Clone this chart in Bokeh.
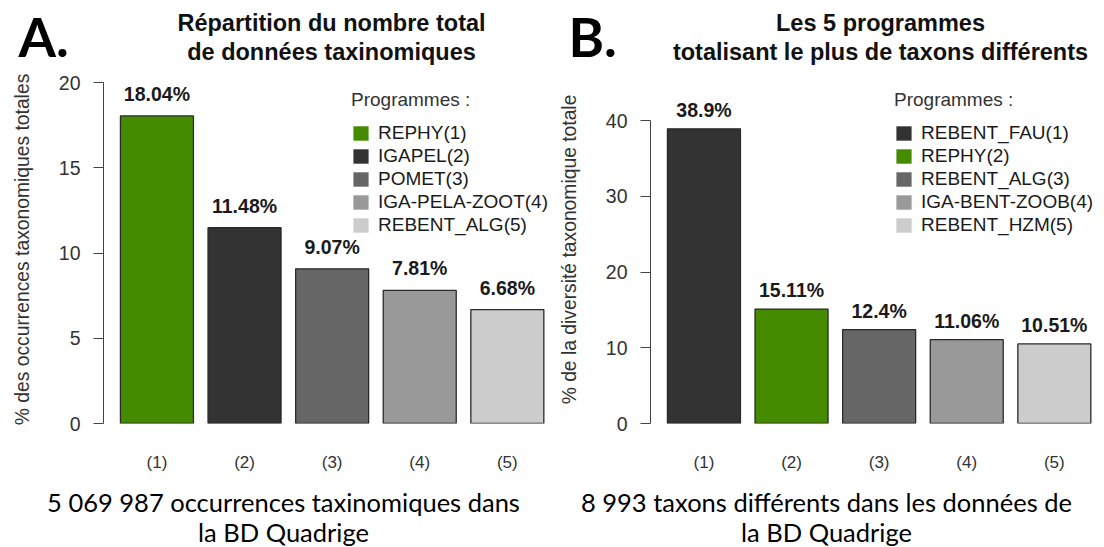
from bokeh.plotting import figure
from bokeh.models import ColumnDataSource, FixedTicker, Label, Range1d
from bokeh.layouts import row, column
from bokeh.embed import file_html
from bokeh.resources import INLINE
from bokeh.core.properties import value

# ---------------- data ----------------
x_labels = ["(1)", "(2)", "(3)", "(4)", "(5)"]

a_programmes = ["REPHY", "IGAPEL", "POMET", "IGA-PELA-ZOOT", "REBENT_ALG"]
a_values = [18.04, 11.48, 9.07, 7.81, 6.68]
a_colors = ["#458B00", "#333333", "#666666", "#999999", "#CCCCCC"]
a_yticks = [0, 5, 10, 15, 20]
a_title = ["Répartition du nombre total", "de données taxinomiques"]
a_ylabel = "% des occurrences taxonomiques totales"
a_caption = ["5 069 987 occurrences taxinomiques dans", "la BD Quadrige"]

b_programmes = ["REBENT_FAU", "REPHY", "REBENT_ALG", "IGA-BENT-ZOOB", "REBENT_HZM"]
b_values = [38.9, 15.11, 12.4, 11.06, 10.51]
b_colors = ["#333333", "#458B00", "#666666", "#999999", "#CCCCCC"]
b_yticks = [0, 10, 20, 30, 40]
b_title = ["Les 5 programmes", "totalisant le plus de taxons différents"]
b_ylabel = "% de la diversité taxonomique totale"
b_caption = ["8 993 taxons différents dans les données de", "la BD Quadrige"]

legend_title = "Programmes :"

# ---------------- layout constants ----------------
HEAD_H = 70          # header strip (letter + title)
CHART_H = 410        # chart strip
CAP_H = 67           # caption strip
FRAME_TOP = 5        # frame top inside chart strip
BORDER_BOTTOM = 57   # room for x labels
FRAME_H = CHART_H - FRAME_TOP - BORDER_BOTTOM
PX_PER_UNIT = 73.0
AXIS_X0 = 0.2 - 0.04 * 5.8   # R barplot axis start
SANS = "Liberation Sans"
WA, WB = 555, 549
BLA, BLB = 103, 95


def blank(width, height):
    p = figure(width=width, height=height, output_backend="svg",
               toolbar_location=None, x_range=Range1d(0, width),
               y_range=Range1d(0, height), min_border=0,
               x_axis_location=None, y_axis_location=None)
    p.outline_line_color = None
    p.grid.visible = False
    p.background_fill_color = "white"
    p.border_fill_color = "white"
    return p


def make_header(letter, title, width, title_x, letter_x):
    head = blank(width, HEAD_H)
    head.add_layout(Label(x=letter_x, y=HEAD_H - 36, x_units="screen", y_units="screen",
                          text=letter, text_align="left", text_baseline="middle",
                          text_font="Lato", text_font_style="bold",
                          text_font_size="54px", text_color="#000000"))
    for k, line in enumerate(title):
        head.add_layout(Label(x=title_x, y=HEAD_H - 22 - 29 * k,
                              x_units="screen", y_units="screen",
                              text=line, text_align="center", text_baseline="middle",
                              text_font=SANS, text_font_style="bold",
                              text_font_size="23.5px", text_color="#111111"))
    return head


def make_caption(caption, width, cap_x):
    cap = blank(width, CAP_H)
    for k, line in enumerate(caption):
        cap.add_layout(Label(x=cap_x, y=CAP_H - 21 - 30 * k,
                             x_units="screen", y_units="screen",
                             text=line, text_align="center", text_baseline="middle",
                             text_font="Lato", text_font_size="25.5px",
                             text_color="#000000"))
    return cap


def make_chart(programmes, values, colors, yticks, ylabel, width, border_left,
               top_tick_px, label_off, leg_x):
    frame_w = width - border_left
    xs = [0.7 + 1.2 * i for i in range(len(values))]
    ymax = yticks[-1]
    y_end = ymax * FRAME_H / (FRAME_H - top_tick_px)
    p = figure(width=width, height=CHART_H, output_backend="svg",
               toolbar_location=None,
               x_range=Range1d(AXIS_X0, AXIS_X0 + frame_w / PX_PER_UNIT),
               y_range=Range1d(0, y_end),
               min_border_left=border_left, min_border_right=0,
               min_border_top=FRAME_TOP, min_border_bottom=BORDER_BOTTOM)
    p.outline_line_color = None
    p.grid.visible = False
    p.background_fill_color = "white"
    p.border_fill_color = "white"

    src = ColumnDataSource(dict(
        x=xs, value=values, color=colors,
        legend=[f"{n}({i + 1})" for i, n in enumerate(programmes)],
        label=[f"{v:g}%" for v in values],
    ))
    p.vbar(x="x", top="value", bottom=0, width=1.0, source=src,
           fill_color="color", line_color=None, legend_field="legend")
    p.vbar(x="x", top="value", bottom=0, width=1.0, source=src,
           fill_alpha=0, line_color="#2a2a2a", line_width=1.3)
    p.text(x="x", y="value", text="label", source=src, y_offset=-label_off,
           text_align="center", text_baseline="middle",
           text_font=value(SANS), text_font_style="bold",
           text_font_size="19.5px", text_color="#1a1a1a")

    ya = p.yaxis[0]
    ya.ticker = FixedTicker(ticks=yticks)
    ya.bounds = (yticks[0], yticks[-1])
    ya.minor_tick_line_color = None
    ya.major_tick_in = 0
    ya.major_tick_out = 10
    ya.axis_line_color = "#444444"
    ya.major_tick_line_color = "#444444"
    ya.major_label_text_font = SANS
    ya.major_label_text_font_size = "19.5px"
    ya.major_label_text_color = "#333333"
    ya.major_label_standoff = 13
    ya.axis_label = ylabel
    ya.axis_label_text_font = SANS
    ya.axis_label_text_font_style = "normal"
    ya.axis_label_text_font_size = "19.3px"
    ya.axis_label_text_color = "#333333"
    ya.axis_label_standoff = 23

    xa = p.xaxis[0]
    xa.ticker = FixedTicker(ticks=xs)
    xa.major_label_overrides = {x: lab for x, lab in zip(xs, x_labels)}
    xa.axis_line_color = None
    xa.major_tick_line_color = None
    xa.minor_tick_line_color = None
    xa.major_label_standoff = 23
    xa.major_label_text_font = SANS
    xa.major_label_text_font_size = "17px"
    xa.major_label_text_color = "#333333"

    leg = p.legend[0]
    leg.location = (leg_x, 187)
    leg.title = legend_title
    leg.title_text_font = SANS
    leg.title_text_font_size = "19px"
    leg.title_text_font_style = "normal"
    leg.title_text_color = "#333333"
    leg.title_standoff = 11
    leg.label_text_font = SANS
    leg.label_text_font_size = "19px"
    leg.label_text_color = "#1a1a1a"
    leg.glyph_width = 19
    leg.glyph_height = 18
    leg.label_height = 21
    leg.label_standoff = 8
    leg.spacing = 1
    leg.padding = 0
    leg.margin = 0
    leg.border_line_color = None
    leg.background_fill_alpha = 0
    return p


headA = make_header("A.", a_title, WA, 331, 18)
headB = make_header("B.", b_title, WB, 325, 13)
chartA = make_chart(a_programmes, a_values, a_colors, a_yticks, a_ylabel, WA, BLA,
                    82 - HEAD_H - FRAME_TOP, 22, 248)
chartB = make_chart(b_programmes, b_values, b_colors, b_yticks, b_ylabel, WB, BLB,
                    120 - HEAD_H - FRAME_TOP, 19, 244)
capA = make_caption(a_caption, WA, 283)
capB = make_caption(b_caption, WB, 271)

layout = column(row(headA, headB), row(chartA, chartB), row(capA, capB))
open("out.html", "w").write(file_html(layout, INLINE))
